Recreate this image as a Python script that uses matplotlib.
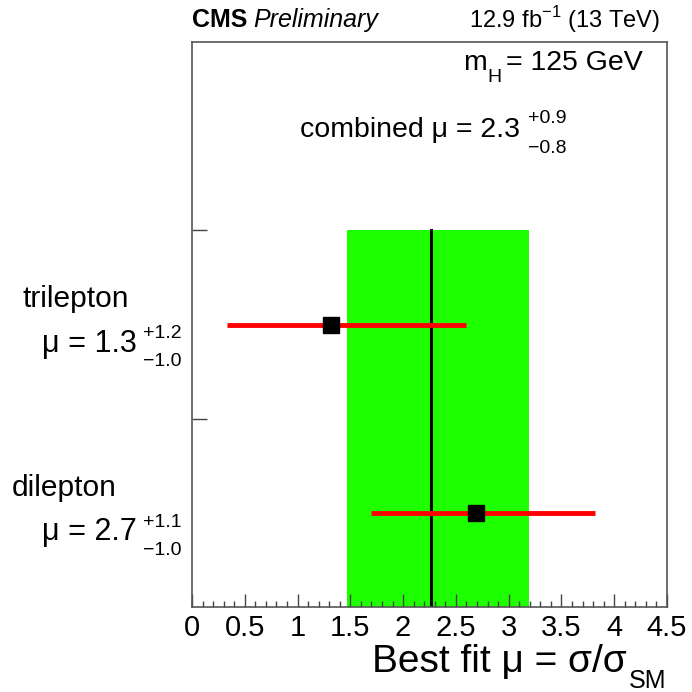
import matplotlib
matplotlib.use("Agg")
import matplotlib.pyplot as plt
from matplotlib.ticker import MultipleLocator, FormatStrFormatter

plt.rcParams['font.family'] = ['Liberation Sans', 'DejaVu Sans']
plt.rcParams['mathtext.fontset'] = 'custom'
plt.rcParams['mathtext.rm'] = 'Liberation Sans'

# fit results per channel (bottom to top)
channels = ["dilepton", "trilepton"]
mu_vals = [2.69, 1.32]
err_lo = [0.99, 0.99]
err_hi = [1.13, 1.28]
mu_text = ["2.7", "1.3"]
hi_text = ["+1.1", "+1.2"]
lo_text = ["\u22121.0", "\u22121.0"]

# combined result
comb_mu = 2.26
comb_lo = 0.79
comb_hi = 0.93
comb_text = ["2.3", "+0.9", "\u22120.8"]

W = 692.0


def fx(px):
    return px / W


def fy(py):
    return 1 - py / W


fig = plt.figure(figsize=(6.92, 6.92), dpi=100)
ax = fig.add_axes([fx(192), fy(607), fx(667) - fx(192), fy(42) - fy(607)])

ypos = [0.5 + i for i in range(len(channels))]
ymax = len(channels)

# combined band and central line
ax.fill_betweenx([0, ymax], comb_mu - comb_lo, comb_mu + comb_hi, color='#1eff00', lw=0, zorder=1)
ax.plot([comb_mu, comb_mu], [0, ymax], color='black', lw=2.2, zorder=2)

for y, m, lo, hi in zip(ypos, mu_vals, err_lo, err_hi):
    ax.plot([m - lo, m + hi], [y, y], color='#ff0000', lw=3.5, solid_capstyle='butt', zorder=3)
    ax.plot(m, y, marker='s', color='black', markersize=11, zorder=4)

ax.set_xlim(0, 4.5)
ax.set_ylim(0, 3)
ax.xaxis.set_major_locator(MultipleLocator(0.5))
ax.xaxis.set_minor_locator(MultipleLocator(0.1))
ax.xaxis.set_major_formatter(FormatStrFormatter('%g'))
ax.set_yticks([1, 2])
ax.set_yticklabels([])
ax.tick_params(axis='x', which='major', direction='in', length=9.5, width=1, color='#444444',
               labelsize=21, pad=5)
ax.tick_params(axis='x', which='minor', direction='in', length=4.5, width=1, color='#444444')
ax.tick_params(axis='y', which='major', direction='in', length=11, width=1, color='#444444')
for s in ax.spines.values():
    s.set_color('#555555')
    s.set_linewidth(1.2)

# axis title
fig.text(fx(627), fy(672), "Best fit \u03bc = \u03c3/\u03c3", fontsize=28, ha='right', va='baseline')
fig.text(fx(629), fy(688), "SM", fontsize=18, ha='left', va='baseline')

# header
fig.text(fx(192), fy(27), "CMS", fontsize=18, fontweight='bold', ha='left', va='baseline')
fig.text(fx(253), fy(27), "Preliminary", fontsize=18, style='italic', ha='left', va='baseline')
fig.text(fx(660), fy(28), "12.9 fb$^{-1}$ (13 TeV)", fontsize=17, ha='right', va='baseline')

# mass label
fig.text(fx(463), fy(70), "m", fontsize=20.5, ha='left', va='baseline')
fig.text(fx(487), fy(82), "H", fontsize=14, ha='left', va='baseline')
fig.text(fx(506), fy(70), "= 125 GeV", fontsize=20.5, ha='left', va='baseline')

# combined label
fig.text(fx(520), fy(137), "combined \u03bc = " + comb_text[0], fontsize=20.5, ha='right', va='baseline')
fig.text(fx(528), fy(123), comb_text[1], fontsize=14, ha='left', va='baseline')
fig.text(fx(528), fy(153), comb_text[2], fontsize=14, ha='left', va='baseline')

# channel labels
label_base = {"trilepton": (23, 307, 352, 338, 366), "dilepton": (12, 496, 540, 527, 555)}
for i, ch in enumerate(channels):
    xl, yname, ymu, ysup, ysub = label_base[ch]
    fig.text(fx(xl), fy(yname), ch, fontsize=21.5, ha='left', va='baseline')
    fig.text(fx(137), fy(ymu), "\u03bc = " + mu_text[i], fontsize=22, ha='right', va='baseline')
    fig.text(fx(143), fy(ysup), hi_text[i], fontsize=14, ha='left', va='baseline')
    fig.text(fx(143), fy(ysub), lo_text[i], fontsize=14, ha='left', va='baseline')

fig.savefig("out.png", dpi=100)
